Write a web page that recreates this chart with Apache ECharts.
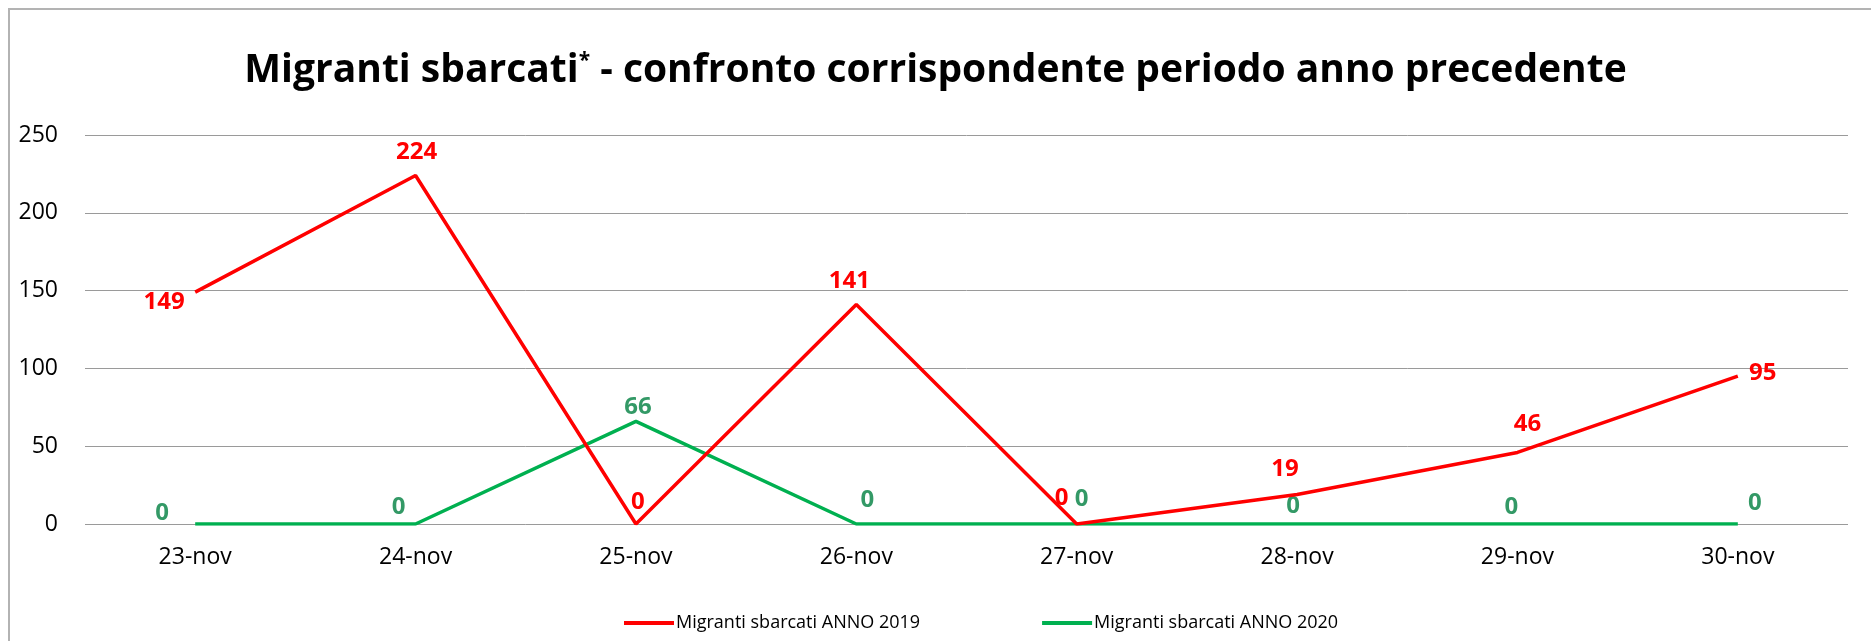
<!DOCTYPE html>
<html>
<head>
<meta charset="utf-8">
<title>Migranti sbarcati</title>
<script src="https://cdn.jsdelivr.net/npm/echarts@6/dist/echarts.min.js"></script>
<style>
  html, body { margin: 0; padding: 0; background: #fff; }
  #wrap { position: relative; width: 1871px; height: 641px; }
  #chart { width: 1871px; height: 641px; }
  #frame {
    position: absolute; left: 8px; top: 8px; right: 0; bottom: 0;
    border-left: 2px solid #b3b3b3; border-top: 2px solid #b3b3b3;
    pointer-events: none;
  }
</style>
</head>
<body>
<div id="wrap">
  <div id="chart"></div>
  <div id="frame"></div>
</div>
<script>
var days = ['23-nov', '24-nov', '25-nov', '26-nov', '27-nov', '28-nov', '29-nov', '30-nov']
var sbarcati2019 = [149, 224, 0, 141, 0, 19, 46, 95]
var sbarcati2020 = [0, 0, 66, 0, 0, 0, 0, 0]
var yTicks = [0, 50, 100, 150, 200, 250]

// label offsets (px) from each point, as in the original layout
var offsets2019 = [[-31, 10], [1, -23], [2, -22], [-7, -23], [-15, -26], [-12, -25], [10, -28], [25, -3]]
var offsets2020 = [[-33, -11], [-17, -17], [2, -14], [11, -24], [5, -25], [-4, -18], [-6, -17], [17, -21]]

var font = '"Open Sans", "Liberation Sans", sans-serif'
var red = '#ff0000'
var green = '#00b050'
var greenLabel = '#339966'

function withLabels(values, offsets, color) {
  return values.map(function (v, i) {
    return {
      value: v,
      label: {
        show: true,
        position: 'inside',
        offset: offsets[i],
        color: color,
        fontFamily: font,
        fontWeight: 'bold',
        fontSize: 24
      }
    }
  })
}

var chart = echarts.init(document.getElementById('chart'))

chart.setOption({
  backgroundColor: '#fff',
  animation: false,
  title: {
    text: 'Migranti sbarcati{sup|*} - confronto corrispondente periodo anno precedente',
    left: 'center',
    top: 46,
    textStyle: {
      fontFamily: font,
      fontWeight: 'bold',
      fontSize: 39,
      color: '#000',
      rich: {
        sup: {
          fontFamily: font,
          fontWeight: 'bold',
          fontSize: 21,
          verticalAlign: 'top',
          padding: [0, 0, 18, 0],
          color: '#000'
        }
      }
    }
  },
  legend: {
    left: 619,
    top: 609,
    itemWidth: 50,
    itemHeight: 4,
    itemGap: 122,
    icon: 'rect',
    textStyle: {
      fontFamily: font,
      fontSize: 18,
      color: '#000',
      padding: [0, 0, 0, -3]
    },
    data: ['Migranti sbarcati ANNO 2019', 'Migranti sbarcati ANNO 2020']
  },
  grid: {
    left: 85,
    right: 23,
    top: 135,
    bottom: 117
  },
  xAxis: {
    type: 'category',
    boundaryGap: true,
    data: days,
    axisLine: { show: false },
    axisTick: { show: false },
    axisLabel: {
      margin: 22,
      fontFamily: font,
      fontSize: 23,
      color: '#000'
    }
  },
  yAxis: {
    type: 'value',
    min: yTicks[0],
    max: yTicks[yTicks.length - 1],
    interval: yTicks[1] - yTicks[0],
    axisLine: { show: false },
    axisTick: { show: false },
    axisLabel: {
      margin: 27,
      fontFamily: font,
      fontSize: 23,
      color: '#000'
    },
    splitLine: {
      lineStyle: { color: '#9a9a9a', width: 1 }
    }
  },
  series: [
    {
      name: 'Migranti sbarcati ANNO 2019',
      type: 'line',
      symbol: 'circle',
      symbolSize: 0,
      showSymbol: true,
      color: red,
      lineStyle: { color: red, width: 3.5 },
      data: withLabels(sbarcati2019, offsets2019, red),
      z: 3
    },
    {
      name: 'Migranti sbarcati ANNO 2020',
      type: 'line',
      symbol: 'circle',
      symbolSize: 0,
      showSymbol: true,
      color: green,
      lineStyle: { color: green, width: 3.5 },
      data: withLabels(sbarcati2020, offsets2020, greenLabel),
      z: 2
    }
  ]
})
</script>
</body>
</html>
